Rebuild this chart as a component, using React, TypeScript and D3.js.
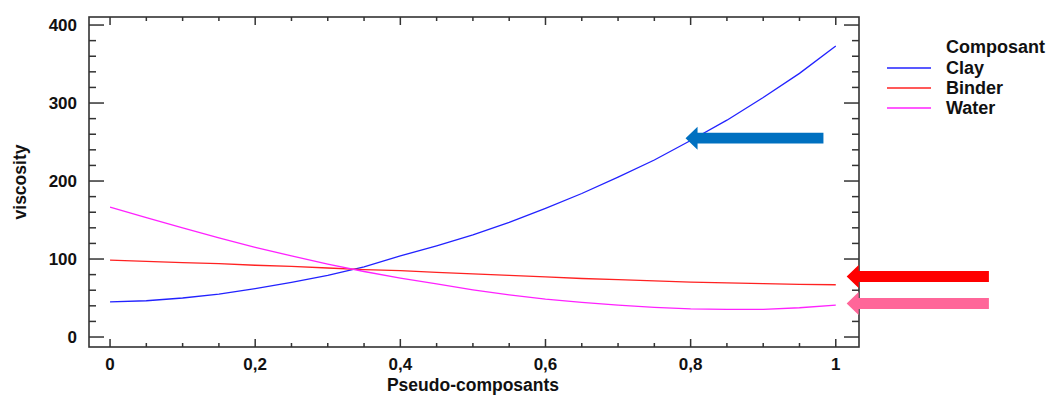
import React from "react";
import * as d3 from "d3";

// pseudo-component fraction (0..1 step 0.05)
const fractions = [0, 0.05, 0.1, 0.15, 0.2, 0.25, 0.3, 0.35, 0.4, 0.45, 0.5, 0.55, 0.6, 0.65, 0.7, 0.75, 0.8, 0.85, 0.9, 0.95, 1];

const clay = [45, 46.5, 50, 55, 62, 70, 79, 90, 104, 117, 131, 147, 165, 184, 205, 227, 252, 278, 307, 338, 373];
const binder = [98.5, 97, 95.5, 94, 92, 90.5, 88.5, 86.5, 85, 83, 81, 79, 77, 75, 73.5, 72, 70.5, 69.5, 68.5, 67.5, 67];
const water = [166.5, 153, 140, 127, 115, 104, 93.5, 84, 75.5, 68, 60.5, 54, 48.5, 44.5, 41, 38, 36, 35.5, 35.5, 37.5, 41];

const seriesNames = ["Clay", "Binder", "Water"];
const seriesColors = ["#2222ff", "#ff2222", "#ff22ff"];
const seriesValues = [clay, binder, water];

const xTicks = [0, 0.2, 0.4, 0.6, 0.8, 1];
const yTicks = [0, 100, 200, 300, 400];

// arrows pointing at values: [tipX, tailX, value, colour]
const arrows: [number, number, number, string][] = [
  [0.793, 0.983, 255, "#0070c0"],
  [1.015, 1.211, 77.6, "#ff0000"],
  [1.015, 1.211, 43, "#ff6699"],
];

const W = 1048;
const H = 396;
const plot = { left: 89, right: 859, top: 17, bottom: 347 };
const font = "'Liberation Sans', Arial, sans-serif";

export default function App() {
  const x = d3.scaleLinear().domain([-0.029, 1.032]).range([plot.left, plot.right]);
  const y = d3.scaleLinear().domain([-12.8, 410.3]).range([plot.bottom, plot.top]);

  const line = d3
    .line<number>()
    .x((_, i) => x(fractions[i]))
    .y((d) => y(d));

  const xMinor = d3.range(0, 21).map((i) => i * 0.05);
  const yMinor = d3.range(0, 21).map((i) => i * 20);
  const axisColor = "#333";

  const arrowPath = (tip: number, tail: number, v: number) => {
    const tx = x(tip);
    const ex = x(tail);
    const cy = y(v);
    const hl = 12, hh = 11.5, bh = 5.4;
    return `M${tx},${cy} L${tx + hl},${cy - hh} L${tx + hl},${cy - bh} L${ex},${cy - bh} L${ex},${cy + bh} L${tx + hl},${cy + bh} L${tx + hl},${cy + hh} Z`;
  };

  return (
    <svg width={W} height={H} style={{ position: "absolute", left: 0, top: 0, background: "#fff" }}>
      {/* series */}
      {seriesValues.map((vals, i) => (
        <path key={i} d={line(vals) || ""} fill="none" stroke={seriesColors[i]} strokeWidth={1.3} />
      ))}

      {/* frame */}
      <rect x={plot.left} y={plot.top} width={plot.right - plot.left} height={plot.bottom - plot.top}
        fill="none" stroke={axisColor} strokeWidth={1.6} />

      {/* y ticks, left and right */}
      {yMinor.map((v) => {
        const major = v % 100 === 0;
        const len = major ? 15 : 7;
        return (
          <g key={"y" + v} stroke={axisColor} strokeWidth={1.5}>
            <line x1={plot.left} x2={plot.left + len} y1={y(v)} y2={y(v)} />
            <line x1={plot.right} x2={plot.right - len} y1={y(v)} y2={y(v)} />
          </g>
        );
      })}

      {/* x ticks, bottom and top */}
      {xMinor.map((v, i) => {
        const major = i % 4 === 0;
        const len = major ? 8 : 4;
        return (
          <g key={"x" + i} stroke={axisColor} strokeWidth={1.5}>
            <line x1={x(v)} x2={x(v)} y1={plot.bottom} y2={plot.bottom - len} />
            <line x1={x(v)} x2={x(v)} y1={plot.top} y2={plot.top + len} />
          </g>
        );
      })}

      <g fontFamily={font} fontWeight="bold" fill="#111">
        {yTicks.map((v) => (
          <text key={v} x={77} y={y(v)} fontSize={17} textAnchor="end" dominantBaseline="central">{v}</text>
        ))}
        {xTicks.map((v) => (
          <text key={v} x={x(v)} y={364} fontSize={17} textAnchor="middle" dominantBaseline="central">
            {String(v).replace(".", ",")}
          </text>
        ))}
        <text x={473} y={385} fontSize={17.5} textAnchor="middle" dominantBaseline="central">Pseudo-composants</text>
        <text transform={`translate(20,${(plot.top + plot.bottom) / 2}) rotate(-90)`} fontSize={17.5}
          textAnchor="middle" dominantBaseline="central">viscosity</text>

        {/* legend */}
        <text x={946} y={47} fontSize={18} dominantBaseline="central">Composant</text>
        {seriesNames.map((n, i) => (
          <g key={n}>
            <line x1={887} x2={931} y1={68 + i * 20} y2={68 + i * 20} stroke={seriesColors[i]} strokeWidth={1.3} />
            <text x={946} y={68 + i * 20} fontSize={18} dominantBaseline="central">{n}</text>
          </g>
        ))}
      </g>

      {/* arrows */}
      {arrows.map(([tip, tail, v, c], i) => (
        <path key={i} d={arrowPath(tip, tail, v)} fill={c} />
      ))}
    </svg>
  );
}
